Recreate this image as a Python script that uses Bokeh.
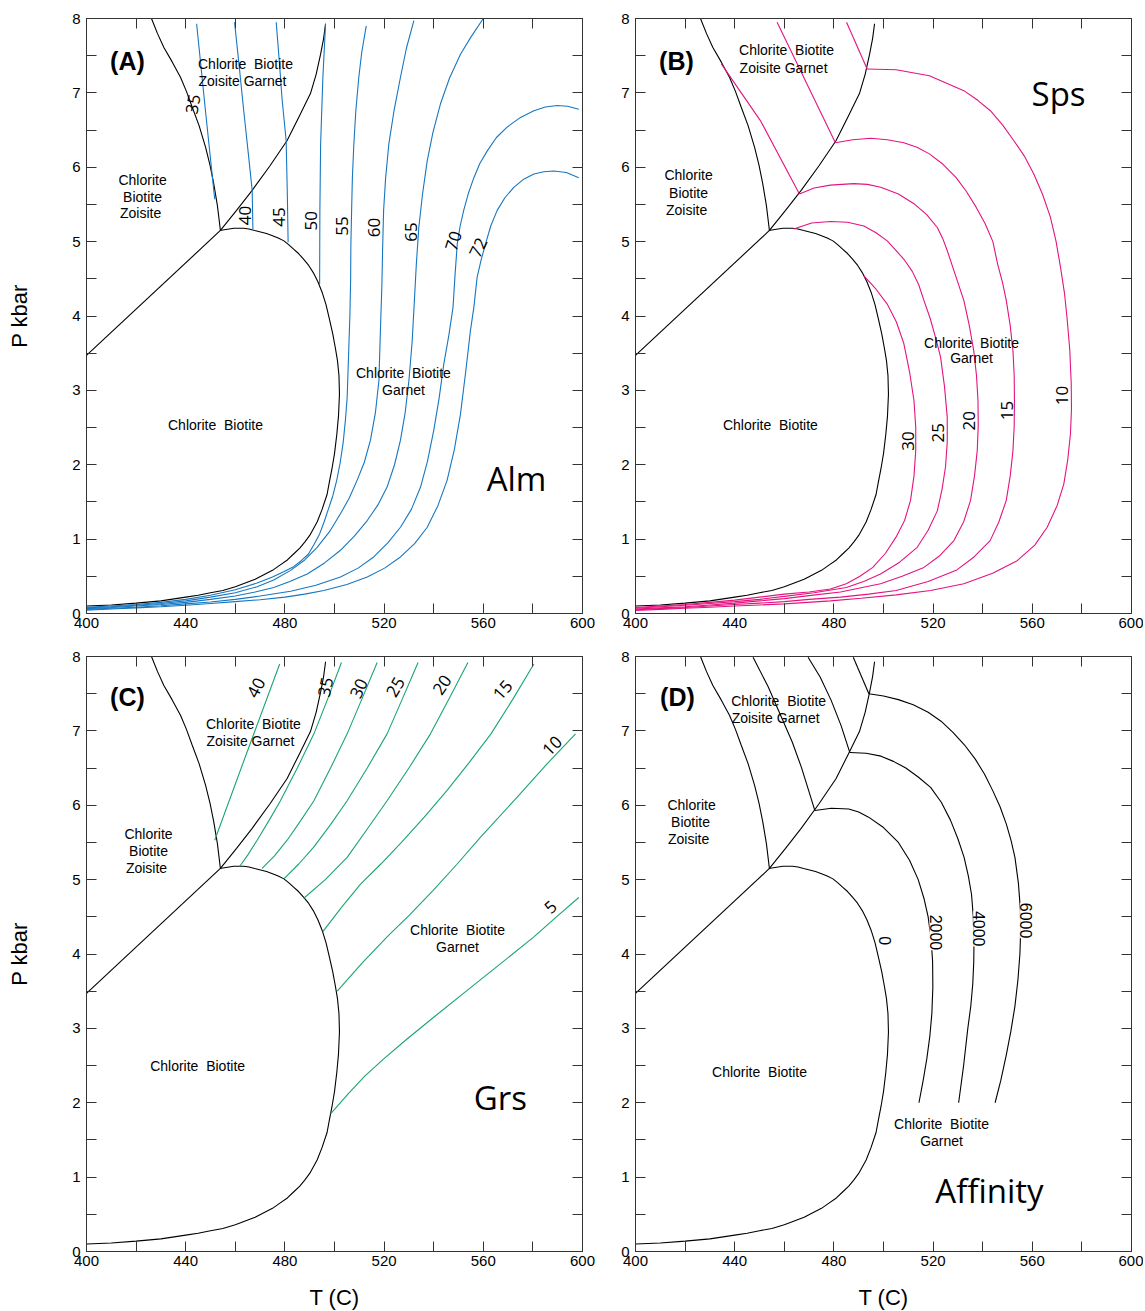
import numpy as np
from bokeh.plotting import figure
from bokeh.models import Range1d, LinearAxis, FixedTicker
from bokeh.layouts import column, row
from bokeh.embed import file_html
from bokeh.resources import INLINE
from bokeh.core.properties import value

# ---------------- axis ticks ----------------
T_TICKS = [400, 440, 480, 520, 560, 600]
T_MINOR = [420, 460, 500, 540, 580]
P_TICKS = [0, 1, 2, 3, 4, 5, 6, 7, 8]
P_MINOR = [0.5, 1.5, 2.5, 3.5, 4.5, 5.5, 6.5, 7.5]

# ---------------- phase boundaries (T in C, P in kbar) ----------------
ELL_T = [400, 410, 420, 430, 440, 445, 450, 455, 460, 464, 468, 471.5, 475, 478, 481, 483.5, 486, 488, 490,
         491.5, 493, 495, 497, 498, 499, 500, 500.9, 501.6, 502.0, 501.8, 501.2, 500.4, 499.3, 498, 496.6,
         495, 493.3, 491.5, 489.6, 487.6, 485.5, 483.5, 481.5, 479.6, 477.3, 475, 472.6, 470.2, 467.8,
         465.5, 463.4, 461.4, 459.4, 457.5, 455.6, 453.8]
ELL_P = [0.10, 0.115, 0.14, 0.17, 0.22, 0.245, 0.28, 0.31, 0.36, 0.41, 0.46, 0.52, 0.58, 0.65, 0.72, 0.80,
         0.88, 0.96, 1.05, 1.14, 1.23, 1.40, 1.6, 1.78, 1.95, 2.15, 2.4, 2.65, 2.95, 3.2, 3.4, 3.56, 3.76,
         3.95, 4.15, 4.32, 4.46, 4.58, 4.68, 4.76, 4.84, 4.9, 4.96, 5.01, 5.05, 5.08, 5.11, 5.13, 5.15,
         5.17, 5.18, 5.18, 5.18, 5.17, 5.16, 5.15]
GRT_T = [454, 460.5, 466.8, 474, 480.9, 486, 490.3, 492.6, 494.4, 495.6, 496.4]
GRT_P = [5.15, 5.42, 5.69, 6.02, 6.36, 6.70, 6.99, 7.25, 7.52, 7.73, 7.93]
CHL_T = [426.2, 428.6, 431.2, 434.5, 437.9, 440.3, 442.6, 445.4, 448, 449.8, 451.3, 452.8, 454]
CHL_P = [8.0, 7.8, 7.61, 7.42, 7.21, 7.02, 6.81, 6.56, 6.27, 6.03, 5.78, 5.48, 5.15]
LOW_T = [400, 454]
LOW_P = [3.47, 5.15]

# ---------------- (A) Alm isopleths ----------------
ALM = {
    "35": ([444.4, 448.0, 451.7], [7.93, 6.75, 5.57]),
    "40": ([459.7, 461.6, 463.4, 465.2, 466.8, 467.1], [7.95, 7.35, 6.76, 6.2, 5.69, 5.17]),
    "45": ([476.5, 477.8, 478.9, 480.5, 481.0, 481.3], [7.95, 7.4, 6.9, 6.36, 5.6, 4.99]),
    "50": ([496.4, 495.3, 494.4, 494.1, 494.0], [7.93, 7.2, 6.31, 5.4, 4.43]),
    "55": ([512.8, 511.0, 509.8, 508.6, 507.8, 507.2, 506.9, 506.6, 506.5, 506.2, 505.8, 505.1, 504.4, 503.5,
            502.3, 500.9, 499.3, 497.5, 495.8, 494.0, 491.8, 489.5, 486.6, 483.5, 479.5, 475, 468.8, 460,
            450, 440, 430, 420, 410, 400],
           [7.90, 7.55, 7.21, 6.76, 6.31, 5.85, 5.42, 4.95, 4.48, 4.0, 3.6, 2.9, 2.6, 2.3,
            2.03, 1.79, 1.58, 1.4, 1.23, 1.07, 0.93, 0.8, 0.71, 0.63, 0.56, 0.49, 0.41, 0.32,
            0.245, 0.19, 0.15, 0.12, 0.10, 0.085]),
    "60": ([532, 529, 526.6, 524, 521.9, 520.6, 519.8, 519.4, 519.1, 518.6, 517.9, 516.5, 514.5, 512, 509.1,
            505.9, 502.4, 498, 493, 488, 482.3, 475.5, 468.8, 460, 450, 440, 430, 420, 410, 400],
           [7.97, 7.6, 7.21, 6.76, 6.31, 5.85, 5.42, 4.9, 4.4, 3.9, 3.13, 2.7, 2.33, 2.03, 1.79,
            1.55, 1.34, 1.1, 0.89, 0.72, 0.58, 0.45, 0.36, 0.28, 0.22, 0.17, 0.135, 0.11, 0.09, 0.075]),
    "65": ([560, 555, 550.8, 546.4, 542.7, 539.7, 537.4, 535.5, 534, 533, 532.2, 531.3, 530, 528.5, 526.6,
            524.2, 521.2, 517.5, 513.2, 508, 502.4, 496, 489, 482, 475.5, 468, 460, 450, 440, 430, 420,
            410, 400],
           [8.0, 7.75, 7.52, 7.2, 6.85, 6.47, 6.09, 5.64, 5.19, 4.7, 4.2, 3.65, 3.13, 2.7, 2.33,
            2.0, 1.7, 1.46, 1.25, 1.04, 0.85, 0.68, 0.53, 0.43, 0.35, 0.29, 0.235, 0.19, 0.15, 0.12, 0.10,
            0.08, 0.065]),
    "70": ([598.5, 594, 589.8, 585, 580.4, 575, 569.6, 565.3, 561.6, 558.6, 556.2, 553.9, 552.1, 550.6, 549.5,
            548.6, 547.8, 546.1, 544.1, 542.2, 540, 537.5, 534.7, 531, 526.6, 521.5, 515.8, 509.5, 502.4,
            492.5, 482.3, 470, 460, 450, 440, 430, 420, 410, 400],
           [6.78, 6.82, 6.83, 6.81, 6.76, 6.67, 6.54, 6.4, 6.22, 6.05, 5.86, 5.64, 5.42, 5.2, 4.97,
            4.55, 4.12, 3.74, 3.36, 2.9, 2.46, 2.05, 1.70, 1.4, 1.16, 0.95, 0.76, 0.61, 0.49,
            0.38, 0.30, 0.235, 0.19, 0.155, 0.13, 0.105, 0.085, 0.07, 0.055]),
    "72": ([598.5, 593.5, 588.4, 584.4, 580.4, 576.3, 572.3, 568.7, 565.6, 563, 560.9, 559.1, 557.5, 556.2,
            554.8, 552.9, 550.8, 548.3, 545.4, 541.7, 537.4, 532.3, 526.6, 520.2, 513.2, 505, 495.7, 488,
            480, 470, 460, 450, 440, 430, 420, 410, 400],
           [5.86, 5.93, 5.95, 5.94, 5.91, 5.84, 5.73, 5.59, 5.42, 5.21, 4.97, 4.75, 4.52, 4.12,
            3.80, 3.25, 2.68, 2.2, 1.79, 1.45, 1.16, 0.94, 0.76, 0.61, 0.49, 0.39, 0.31, 0.26,
            0.22, 0.185, 0.16, 0.135, 0.11, 0.09, 0.075, 0.06, 0.045]),
}
ALM_LABELS = ["35", "40", "45", "50", "55", "60", "65", "70", "72"]
ALM_LAB_T = [443.0, 464.1, 477.8, 490.7, 503.2, 516.1, 531.0, 548.0, 558.0]
ALM_LAB_P = [6.85, 5.35, 5.33, 5.28, 5.21, 5.19, 5.13, 5.01, 4.92]
ALM_LAB_ANG = [80, 90, 90, 90, 90, 90, 90, 72, 64]

# ---------------- (B) Sps isopleths ----------------
SPS = {
    "20z": ([434.6, 450.5, 466.1], [7.39, 6.62, 5.64]),
    "15z": ([457.1, 480.6], [7.95, 6.33]),
    "10z": ([485.1, 493.4], [7.95, 7.32]),
    "30": ([492.1, 497, 501.5, 505.2, 508.2, 510.5, 512.3, 513, 513, 512.3, 510.9, 508.5, 505.1, 500.8,
            495.7, 490.5, 485, 478.6, 470, 460, 450, 440, 430, 420, 410, 400],
           [4.54, 4.36, 4.16, 3.92, 3.63, 3.25, 2.86, 2.5, 2.19, 1.85, 1.52, 1.25, 1.03, 0.81,
            0.62, 0.5, 0.40, 0.33, 0.29, 0.26, 0.22, 0.18, 0.15, 0.12, 0.10, 0.08]),
    "25": ([463.8, 471, 478.6, 485.5, 492.1, 497, 501.5, 505.1, 508.5, 511.6, 514.2, 516.3, 518.8, 521.0,
            523.0, 524.6, 525.7, 525.7, 525, 523.6, 521.7, 518, 513.6, 506.5, 498.8, 492, 485, 472, 460,
            450, 440, 430, 420, 410, 400],
           [5.17, 5.25, 5.27, 5.26, 5.21, 5.12, 5.01, 4.88, 4.75, 4.6, 4.42, 4.21, 3.97, 3.71,
            3.45, 3.05, 2.64, 2.3, 1.97, 1.67, 1.38, 1.12, 0.89, 0.69, 0.53, 0.43, 0.35, 0.28, 0.23,
            0.19, 0.16, 0.135, 0.11, 0.09, 0.07]),
    "20": ([466.1, 472, 478.6, 488, 493.5, 498.9, 506, 512.3, 517.5, 521.7, 523.9, 525.7, 529, 532.4, 534.6,
            536.4, 537.5, 538.1, 538.2, 537.8, 536.7, 535.1, 532.3, 528.4, 522.8, 516.3, 507.5, 498.8,
            490, 482.7, 470, 460, 450, 440, 430, 420, 410, 400],
           [5.64, 5.72, 5.76, 5.78, 5.77, 5.73, 5.64, 5.51, 5.36, 5.19, 5.04, 4.88, 4.55, 4.21, 3.87,
            3.53, 3.2, 2.86, 2.52, 2.19, 1.85, 1.52, 1.23, 0.98, 0.78, 0.62, 0.50, 0.40,
            0.34, 0.29, 0.24, 0.20, 0.17, 0.14, 0.115, 0.09, 0.075, 0.06]),
    "15": ([480.6, 487.6, 494.8, 501.5, 508.2, 513.5, 518.5, 524, 529.3, 533.5, 537.4, 541, 544.1, 546,
            548, 549.5, 551.1, 552.2, 552.7, 552.8, 552.7, 552.2, 551.1, 549.5, 546.5, 543, 536.5, 529.3,
            518, 505.1, 494, 482.7, 470, 460, 450, 440, 430, 420, 410, 400],
           [6.33, 6.37, 6.39, 6.37, 6.33, 6.27, 6.18, 6.04, 5.86, 5.67, 5.46, 5.24, 5.0, 4.7,
            4.45, 4.21, 3.87, 3.53, 3.2, 2.86, 2.52, 2.19, 1.85, 1.52, 1.23, 0.98, 0.76, 0.58,
            0.43, 0.31, 0.26, 0.22, 0.19, 0.16, 0.14, 0.12, 0.10, 0.08, 0.065, 0.05]),
    "10": ([493.4, 505.1, 518.5, 532.4, 538, 543.1, 548, 552.5, 556.8, 560.6, 564.2, 567.3, 569.6, 571.4,
            573, 574.0, 575.1, 575.7, 575.8, 575.4, 574.3, 572.7, 570, 566.0, 561, 553.9, 544, 532.4, 519,
            505.1, 491, 478.6, 460, 450, 440, 430, 420, 410, 400],
           [7.32, 7.31, 7.23, 7.03, 6.9, 6.76, 6.57, 6.36, 6.15, 5.91, 5.63, 5.33, 5.0, 4.65,
            4.3, 3.98, 3.55, 3.09, 2.75, 2.42, 2.07, 1.74, 1.45, 1.16, 0.92, 0.71, 0.54, 0.40, 0.31,
            0.25, 0.205, 0.17, 0.13, 0.115, 0.10, 0.085, 0.07, 0.055, 0.04]),
}
SPS_LABELS = ["30", "25", "20", "15", "10"]
SPS_LAB_T = [509.7, 521.8, 534.3, 549.6, 571.8]
SPS_LAB_P = [2.32, 2.43, 2.59, 2.73, 2.93]

# ---------------- (C) Grs isopleths ----------------
GRS = {
    "40": ([477.9, 464.8, 451.7], [7.90, 6.72, 5.53]),
    "35": ([502.8, 497.5, 491.7, 485, 478.2, 473.5, 468.8, 465, 461.8],
           [7.92, 7.45, 6.96, 6.5, 6.06, 5.79, 5.53, 5.33, 5.18]),
    "30": ([517.2, 511.2, 505.1, 498.4, 491.7, 486.3, 480.9, 475.8, 470.8],
           [7.92, 7.44, 6.96, 6.5, 6.06, 5.79, 5.53, 5.32, 5.15]),
    "25": ([533.7, 527.5, 521.2, 513.2, 505.1, 498.4, 491.7, 485.6, 479.6],
           [7.92, 7.44, 6.96, 6.5, 6.06, 5.74, 5.44, 5.21, 5.01]),
    "20": ([553.8, 546.3, 538.7, 530, 521.2, 513, 505.1, 496.3, 487.6],
           [7.92, 7.44, 6.96, 6.5, 6.06, 5.67, 5.30, 5.0, 4.75]),
    "15": ([580.4, 571.8, 563.1, 554.2, 545.4, 536.2, 527, 518.7, 510.5, 502.9, 495.3],
           [7.90, 7.42, 6.96, 6.57, 6.20, 5.84, 5.50, 5.21, 4.94, 4.63, 4.30]),
    "10": ([597.2, 585.8, 572.3, 558.9, 549.2, 539.6, 530.4, 521.2, 511.2, 501.1],
           [6.96, 6.56, 6.06, 5.57, 5.2, 4.85, 4.53, 4.23, 3.88, 3.50]),
    "5": ([598.5, 589.5, 580.4, 567, 553.5, 540, 529, 519.5, 512, 505.5, 498.4],
          [4.76, 4.50, 4.23, 3.87, 3.51, 3.15, 2.85, 2.58, 2.35, 2.12, 1.85]),
}
GRS_LABELS = ["40", "35", "30", "25", "20", "15", "10", "5"]
GRS_LAB_T = [468.4, 496.4, 509.8, 524.6, 543.4, 567.9, 587.8, 587.1]
GRS_LAB_P = [7.58, 7.59, 7.57, 7.59, 7.62, 7.55, 6.80, 4.63]
GRS_LAB_ANG = [62, 78, 65, 60, 56, 48, 45, 42]

# ---------------- (D) Affinity contours ----------------
AFF = {
    "2000z": ([447.4, 453.4, 458.9, 463.2, 466.9, 469.8, 472.3], [7.99, 7.6, 7.18, 6.85, 6.51, 6.2, 5.93]),
    "4000z": ([469.6, 474.5, 478.9, 482.9, 486.4], [7.99, 7.72, 7.41, 7.07, 6.71]),
    "6000z": ([487.8, 494.1], [7.99, 7.50]),
    "2000": ([472.3, 479, 486, 490, 494, 500, 506, 510.5, 514, 516.3, 518, 519.2, 519.8, 519.9, 519.5, 518.7,
              517.5, 516, 514.3],
             [5.93, 5.96, 5.95, 5.91, 5.84, 5.7, 5.5, 5.26, 5.0, 4.75, 4.5, 4.2, 3.9, 3.55, 3.2, 2.9,
              2.6, 2.3, 2.0]),
    "4000": ([486.4, 493, 499, 504, 509, 514, 519, 523.3, 527, 530, 532.5, 534.2, 535.5, 536.2, 536.5, 536.4,
              536, 535.2, 534, 532.3, 530.3],
             [6.71, 6.7, 6.66, 6.59, 6.5, 6.38, 6.24, 6.04, 5.8, 5.55, 5.3, 5.05, 4.8, 4.5, 4.2, 3.9,
              3.6, 3.3, 3.0, 2.5, 2.0]),
    "6000": ([494.1, 500, 506, 512, 518, 523.2, 528, 532.7, 537, 540.7, 544, 547, 549.5, 551.4, 553, 554.4,
              555.2, 555.3, 555, 554.2, 553, 551.4, 549.5, 547.3, 545],
             [7.50, 7.47, 7.42, 7.35, 7.25, 7.13, 6.98, 6.81, 6.62, 6.42, 6.2, 5.98, 5.75, 5.53, 5.3, 4.95,
              4.6, 4.3, 4.0, 3.65, 3.3, 2.97, 2.64, 2.3, 2.0]),
}
AFF_LABELS = ["0", "2000", "4000", "6000"]
AFF_LAB_T = [500.6, 521.0, 538.6, 557.5]
AFF_LAB_P = [4.18, 4.29, 4.34, 4.45]

BLUE = "#1677c0"
PINK = "#e5137f"
GREEN = "#19a66d"
FRAME = "#333333"
CB = "Chlorite\u00a0\u00a0Biotite"


def base_fig(bl, br, bt, bb, xlab=None, ylab=None):
    p = figure(frame_width=496, frame_height=595, x_range=Range1d(400, 600), y_range=Range1d(0, 8),
               output_backend="svg", toolbar_location=None,
               min_border_left=bl, min_border_right=br, min_border_top=bt, min_border_bottom=bb,
               background_fill_color="white", border_fill_color="white")
    p.grid.visible = False
    p.outline_line_color = FRAME
    p.outline_line_width = 1

    def style(ax, labels=True):
        ax.major_tick_in = 10
        ax.major_tick_out = 0
        ax.minor_tick_in = 10
        ax.minor_tick_out = 0
        ax.axis_line_color = FRAME
        ax.major_tick_line_color = FRAME
        ax.minor_tick_line_color = FRAME
        ax.major_label_text_font = "Liberation Sans"
        ax.major_label_text_color = "black"
        if labels:
            ax.major_label_text_font_size = "15px"
            ax.major_label_standoff = 5
        else:
            ax.major_label_text_font_size = "0px"
            ax.major_label_standoff = 0

    xa = p.xaxis[0]
    ya = p.yaxis[0]
    xa.ticker = FixedTicker(ticks=T_TICKS, minor_ticks=T_MINOR)
    ya.ticker = FixedTicker(ticks=P_TICKS, minor_ticks=P_MINOR)
    style(xa)
    style(ya)
    ya.major_label_standoff = 6
    xa.major_label_standoff = 4
    if xlab:
        xa.axis_label = xlab
        xa.axis_label_text_font = "Liberation Sans"
        xa.axis_label_text_font_size = "22px"
        xa.axis_label_text_font_style = "normal"
        xa.axis_label_text_color = "black"
        xa.axis_label_standoff = 16
    if ylab:
        ya.axis_label = ylab
        ya.axis_label_text_font = "Liberation Sans"
        ya.axis_label_text_font_size = "22px"
        ya.axis_label_text_font_style = "normal"
        ya.axis_label_text_color = "black"
        ya.axis_label_standoff = 37

    top = LinearAxis(ticker=FixedTicker(ticks=T_TICKS, minor_ticks=T_MINOR),
                     major_label_overrides={t: "" for t in T_TICKS})
    style(top, labels=False)
    p.add_layout(top, "above")
    right = LinearAxis(ticker=FixedTicker(ticks=P_TICKS, minor_ticks=P_MINOR),
                       major_label_overrides={t: "" for t in P_TICKS})
    style(right, labels=False)
    p.add_layout(right, "right")
    return p


def boundaries(p):
    kw = dict(line_color="black", line_width=1.1)
    p.line(ELL_T, ELL_P, **kw)
    p.line(GRT_T, GRT_P, **kw)
    p.line(CHL_T, CHL_P, **kw)
    p.line(LOW_T, LOW_P, **kw)


def label(p, t, pr, s, size="14px", font="Liberation Sans", align="center", **kw):
    p.text(x=[t], y=[pr], text=[s], text_font=value(font), text_font_size=size,
           text_align=align, text_baseline="middle", text_color="black", **kw)


def panel_tag(p, t, pr, s):
    p.text(x=[t], y=[pr], text=[s], text_font=value("Liberation Sans"), text_font_size="25px",
           text_font_style="bold", text_align="center", text_baseline="middle", text_color="black")


def region_labels(p, tl, zo, cbg, cb):
    label(p, tl[0], tl[1], CB)
    label(p, tl[2], tl[3], "Zoisite Garnet")
    label(p, zo[0], zo[1], "Chlorite")
    label(p, zo[0], zo[2], "Biotite")
    label(p, zo[3], zo[4], "Zoisite")
    label(p, cbg[0], cbg[1], CB)
    label(p, cbg[0], cbg[2], "Garnet")
    label(p, cb[0], cb[1], CB)


# ---------------- Panel A ----------------
pA = base_fig(86, 20, 18, 25, ylab="P kbar")
boundaries(pA)
for k, (t, pr) in ALM.items():
    pA.line(t, pr, line_color=BLUE, line_width=1.1)
for s, t, pr, a in zip(ALM_LABELS, ALM_LAB_T, ALM_LAB_P, ALM_LAB_ANG):
    label(pA, t, pr, s, size="17px", font="Open Sans", angle=a, angle_units="deg")
region_labels(pA, (464.1, 7.39, 462.9, 7.16), (422.6, 5.83, 5.60, 421.8, 5.38),
              (527.8, 3.23, 3.00), (452.0, 2.54))
label(pA, 573.4, 1.82, "Alm", size="33px", font="Open Sans")
panel_tag(pA, 416.5, 7.43, "(A)")

# ---------------- Panel B ----------------
pB = base_fig(33, 12, 18, 25)
boundaries(pB)
for k, (t, pr) in SPS.items():
    pB.line(t, pr, line_color=PINK, line_width=1.1)
for s, t, pr in zip(SPS_LABELS, SPS_LAB_T, SPS_LAB_P):
    label(pB, t, pr, s, size="17px", font="Open Sans", angle=90, angle_units="deg")
region_labels(pB, (460.9, 7.57, 459.7, 7.34), (421.4, 5.89, 5.66, 420.6, 5.43),
              (535.5, 3.64, 3.43), (454.4, 2.54))
label(pB, 570.6, 6.99, "Sps", size="33px", font="Open Sans")
panel_tag(pB, 416.5, 7.43, "(B)")

# ---------------- Panel C ----------------
pC = base_fig(86, 20, 18, 58, xlab="T (C)", ylab="P kbar")
boundaries(pC)
for k, (t, pr) in GRS.items():
    pC.line(t, pr, line_color=GREEN, line_width=1.1)
for s, t, pr, a in zip(GRS_LABELS, GRS_LAB_T, GRS_LAB_P, GRS_LAB_ANG):
    label(pC, t, pr, s, size="17px", font="Open Sans", angle=a, angle_units="deg")
region_labels(pC, (467.3, 7.09, 466.1, 6.86), (425.0, 5.62, 5.39, 424.2, 5.16),
              (549.6, 4.32, 4.09), (444.8, 2.50))
label(pC, 566.9, 2.07, "Grs", size="33px", font="Open Sans")
panel_tag(pC, 416.5, 7.45, "(C)")

# ---------------- Panel D ----------------
pD = base_fig(33, 12, 18, 58, xlab="T (C)")
boundaries(pD)
for k, (t, pr) in AFF.items():
    pD.line(t, pr, line_color="black", line_width=1.1)
for s, t, pr in zip(AFF_LABELS, AFF_LAB_T, AFF_LAB_P):
    label(pD, t, pr, s, size="16px", angle=-90, angle_units="deg", background_fill_color="white")
label(pD, 457.7, 7.40, CB)
label(pD, 456.5, 7.17, "Zoisite Garnet")
label(pD, 422.6, 6.00, "Chlorite")
label(pD, 422.2, 5.77, "Biotite")
label(pD, 421.4, 5.54, "Zoisite")
label(pD, 450.0, 2.41, CB)
label(pD, 523.4, 1.72, CB)
label(pD, 523.4, 1.49, "Garnet")
label(pD, 542.7, 0.82, "Affinity", size="33px", font="Open Sans")
panel_tag(pD, 416.9, 7.45, "(D)")

layout = column(row(pA, pB), row(pC, pD))
open("out.html", "w").write(file_html(layout, INLINE))
